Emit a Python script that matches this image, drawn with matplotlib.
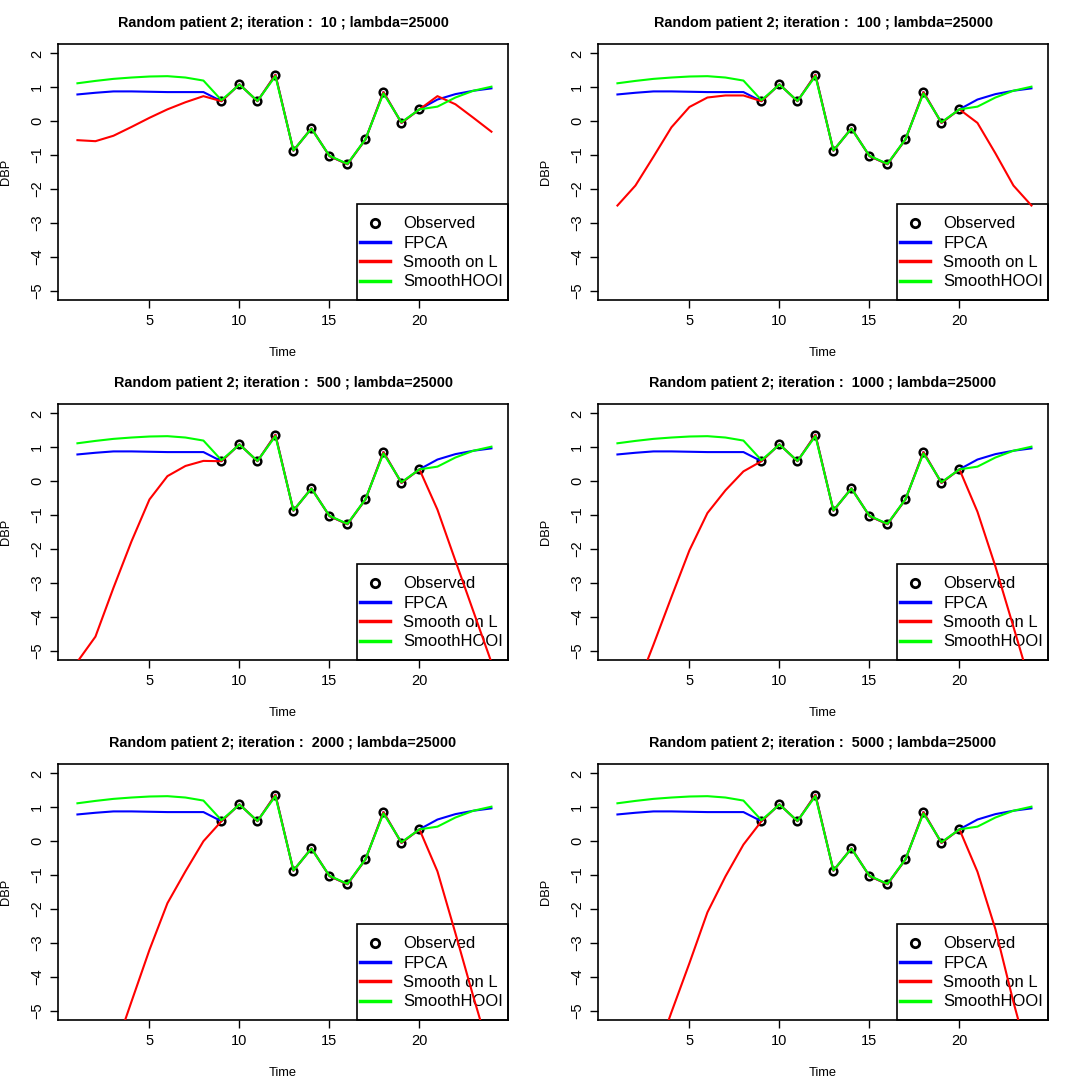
import matplotlib.pyplot as plt
from matplotlib.patches import Rectangle
import numpy as np

plt.rcParams['font.family'] = ['Liberation Sans', 'DejaVu Sans']

time = np.arange(1, 25)
obs_time = np.arange(9, 21)
observed = [0.59, 1.09, 0.59, 1.37, -0.87, -0.21, -1.03, -1.27, -0.54, 0.86, -0.05, 0.35]

fpca = [0.79, 0.84, 0.88, 0.88, 0.87, 0.86, 0.86, 0.86] + observed + [0.64, 0.80, 0.90, 0.97]
hooi_mid = [0.62, 1.08, 0.60, 1.33, -0.86, -0.22, -1.02, -1.26, -0.53, 0.82, -0.03, 0.35]
smooth_hooi = [1.12, 1.19, 1.25, 1.29, 1.32, 1.33, 1.29, 1.20] + hooi_mid + [0.43, 0.70, 0.90, 1.02]

iterations = [10, 100, 500, 1000, 2000, 5000]
red_left = {
    10: [-0.56, -0.59, -0.43, -0.17, 0.10, 0.35, 0.56, 0.74],
    100: [-2.49, -1.90, -1.05, -0.18, 0.42, 0.70, 0.76, 0.76],
    500: [-5.33, -4.59, -3.15, -1.78, -0.54, 0.15, 0.45, 0.60],
    1000: [-7.6, -6.2, -4.83, -3.42, -2.04, -0.94, -0.27, 0.29],
    2000: [-9.1, -7.7, -6.28, -4.74, -3.21, -1.83, -0.89, 0.00],
    5000: [-9.5, -8.0, -6.55, -5.05, -3.60, -2.10, -1.04, -0.10],
}
red_right = {
    10: [0.74, 0.50, 0.10, -0.31],
    100: [-0.05, -0.95, -1.90, -2.49],
    500: [-0.84, -2.35, -3.85, -5.35],
    1000: [-0.90, -2.52, -4.30, -6.10],
    2000: [-0.89, -2.72, -4.60, -6.40],
    5000: [-0.90, -2.60, -4.75, -6.70],
}

W = 1080.0
fig = plt.figure(figsize=(10.8, 10.8), dpi=100)

for i, it in enumerate(iterations):
    row, col = i // 2, i % 2
    left = 58 + 540 * col
    top = 44 + 360 * row
    ax = fig.add_axes([left / W, 1 - (top + 256) / W, 450 / W, 256 / W])

    smooth_l = red_left[it] + observed + red_right[it]

    ax.plot(obs_time, observed, 'o', mfc='none', mec='black', mew=1.8, ms=5.5, zorder=3)
    ax.plot(time, fpca, color='blue', lw=1.5, zorder=4)
    ax.plot(time, smooth_l, color='red', lw=1.5, zorder=5)
    ax.plot(time, smooth_hooi, color='#00ff00', lw=1.5, zorder=6)

    ax.set_xlim(-0.08, 24.92)
    ax.set_ylim(-5.28, 2.28)
    ax.set_xticks([5, 10, 15, 20])
    ax.set_yticks(range(-5, 3))
    ax.tick_params(direction='out', length=6, width=1, labelsize=10.5, pad=4)
    for lab in ax.get_yticklabels():
        lab.set_rotation(90)
        lab.set_va('center')
    for s in ax.spines.values():
        s.set_linewidth(1.2)

    ax.set_title('Random patient 2; iteration :  %d ; lambda=25000' % it,
                 fontsize=10.4, fontweight='bold', pad=12)
    ax.set_xlabel('Time', fontsize=9.3, labelpad=14)
    ax.set_ylabel('DBP', fontsize=9.3, labelpad=13)

    # legend box (R style, anchored at bottom right)
    ax.add_patch(Rectangle((0.664, 0), 0.336, 0.375, transform=ax.transAxes,
                           fill=False, edgecolor='black', lw=1.2, zorder=2, clip_on=False))
    h_obs = plt.Line2D([], [], ls='none', marker='o', mfc='none', mec='black', mew=2, ms=6)
    h_f = plt.Line2D([], [], color='blue', lw=2.5)
    h_r = plt.Line2D([], [], color='red', lw=2.5)
    h_g = plt.Line2D([], [], color='#00ff00', lw=2.5)
    leg = ax.legend([h_obs, h_f, h_r, h_g], ['Observed', 'FPCA', 'Smooth on L', 'SmoothHOOI'],
                    loc='center left', bbox_to_anchor=(0.671, 0.184), borderaxespad=0,
                    fontsize=12, frameon=False, labelspacing=0.26, handlelength=1.8,
                    handletextpad=0.8, borderpad=0)
    leg.set_zorder(2)

plt.savefig('out.png', dpi=100)
